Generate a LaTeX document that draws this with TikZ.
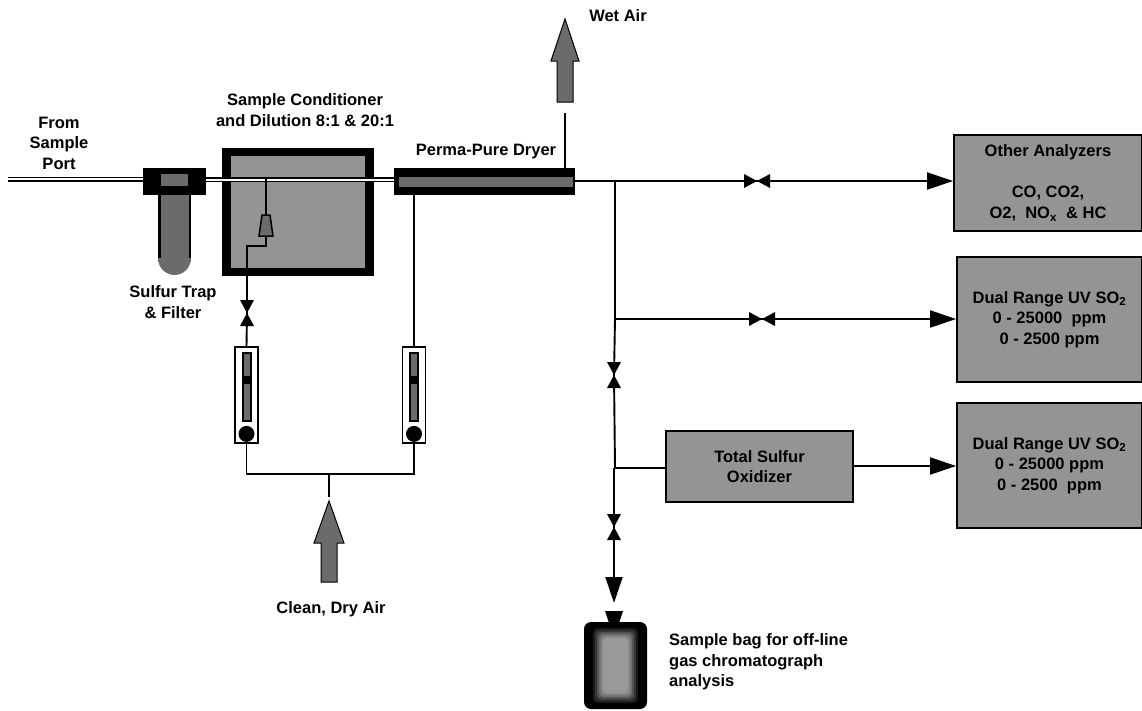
\documentclass[tikz,border=0pt]{standalone}
\usepackage{fontspec}
\setmainfont{Liberation Sans}
\usetikzlibrary{arrows.meta,calc}
\definecolor{halftone}{gray}{0.58}
\definecolor{darktone}{gray}{0.42}
\tikzset{
  lbl/.style={font=\fontsize{16.5}{20.5}\selectfont\bfseries,align=center,inner sep=0pt,text=black},
  lblleft/.style={lbl,align=left,anchor=west},
  unit/.style={lbl,draw=black,line width=1.8pt,fill=halftone,inner sep=0pt},
  pipe/.style={draw=black,line width=1.9pt},
  thinpipe/.style={draw=black,line width=1.5pt},
  feed/.style={pipe,-{Triangle[length=26pt,width=17pt]}},
  dblouter/.style={draw=black,line width=5pt},
  dblinner/.style={draw=white,line width=1.7pt},
  blockarrow/.style={draw=black,line width=1pt,fill=darktone},
  dark/.style={fill=black},
  meter/.style={draw=black,line width=1.8pt,fill=white,minimum width=23pt,minimum height=96pt,inner sep=0pt},
}
\newcommand{\valveH}[1]{\fill[black] ($(#1)+(-13,-7)$) -- ($(#1)+(13,7)$) -- ($(#1)+(13,-7)$) -- ($(#1)+(-13,7)$) -- cycle;}
\newcommand{\valveV}[1]{\fill[black] ($(#1)+(-7,-13)$) -- ($(#1)+(7,13)$) -- ($(#1)+(-7,13)$) -- ($(#1)+(7,-13)$) -- cycle;}
\newcommand{\meterbody}[1]{%
  \fill[black] ($(#1.north)+(-5,6)$) rectangle ($(#1.north)+(5,76)$);
  \fill[darktone] ($(#1.north)+(-3,8)$) rectangle ($(#1.north)+(3,30)$);
  \fill[darktone] ($(#1.north)+(-3,38)$) rectangle ($(#1.north)+(3,74)$);
  \fill[black] ($(#1.south)+(0,-10)$) circle (8);}
\begin{document}
\begin{tikzpicture}[x=1pt,y=-1pt]
\useasboundingbox (0,0) rectangle (1142,710);

% --- named anchor points
\coordinate (inlet) at (8,179);
\coordinate (jmain) at (615,181);
\coordinate (jmid) at (615,319);
\coordinate (jox) at (615,468);
\coordinate (vmain) at (757,181);
\coordinate (vmid) at (762,319);
\coordinate (vup) at (614,375);
\coordinate (vlow) at (614,527);
\coordinate (vair) at (247,313);
\coordinate (tee) at (329,474);
\coordinate (stemend) at (329,497);
\coordinate (tap) at (266,179);
\coordinate (bend1) at (266,246);
\coordinate (bend2) at (247,246);
\coordinate (wetend) at (565,113);
\coordinate (bagtip) at (614,603);
\coordinate (oxout) at (853,466);

% --- units
\node[unit,minimum width=188pt,minimum height=96pt] (other) at (1048,183) {Other Analyzers\\[20.5pt]CO, CO2,\\O2,\ \ NO\textsubscript{x}\ \ \& HC};
\node[unit,minimum width=185pt,minimum height=125pt] (uv1) at (1049.5,319.5) {Dual Range UV SO\textsubscript{2}\\0 - 25000\ \ ppm\\0 - 2500 ppm};
\node[unit,minimum width=185pt,minimum height=125pt] (uv2) at (1049.5,465.5) {Dual Range UV SO\textsubscript{2}\\0 - 25000 ppm\\0 - 2500\ \ ppm};
\node[unit,minimum width=187pt,minimum height=71pt] (oxid) at (759.5,466.5) {Total Sulfur\\Oxidizer};

% --- conditioner box
\node[draw=black,line width=8.5pt,fill=halftone,minimum width=143pt,minimum height=120pt,inner sep=0pt] (cond) at (298,212) {};

% --- inlet and through line
\path[dblouter] (inlet) -- (144,179);
\path[dblinner] (inlet) -- (144,179);
\path[dblouter] (206,179) -- (395,179);
\path[dblinner] (206,180) -- (395,180);

% --- sulfur trap
\node[fill=darktone,minimum width=33pt,minimum height=70pt,inner sep=0pt] (bowlrect) at (174.5,227) {};
\fill[black] (158,192) rectangle (160.5,258);
\fill[black] (188.5,192) rectangle (191,258);
\fill[darktone] (158,258) .. controls (158,268) and (166,275) .. (174.5,275) .. controls (183,275) and (191,268) .. (191,258) -- cycle;
\node[dark,minimum width=63pt,minimum height=27pt,inner sep=0pt] (trap) at (174.5,181.5) {};
\fill[darktone] (161,174) rectangle (188,186);

% --- dryer
\node[dark,minimum width=181pt,minimum height=27pt,inner sep=0pt] (dryer) at (484.5,181.5) {};
\fill[darktone] (399,177) rectangle (573,187);

% --- flow meters
\node[meter] (mleft) at (246.5,395) {};
\node[meter] (mright) at (414,395) {};
\meterbody{mleft}
\meterbody{mright}

% --- nozzle and air line in the conditioner
\node[inner sep=0pt,minimum size=0pt] (nozzle) at (266,225) {};
\fill[darktone,draw=black,line width=1.5pt] (262,215) -- (270,215) -- (273,236) -- (259,236) -- cycle;
\draw[thinpipe] (tap) -- (nozzle |- 0,215);
\draw[pipe] (266,236) -- (bend1) -- (bend2) -- (vair) -- (mleft.north);
\valveV{vair}

% --- dilution air
\draw[pipe] (mright.north) -- (mright.north |- dryer.south);
\draw[pipe] (mleft.south) -- (mleft.south |- tee) -- (mright.south |- tee) -- (mright.south);
\draw[pipe] (tee) -- (stemend);
\draw[blockarrow] (329,501) -- (344,543) -- (337,543) -- (337,582) -- (321,582) -- (321,543) -- (314,543) -- cycle;

% --- wet air
\draw[pipe] (wetend) -- (wetend |- dryer.north);
\draw[blockarrow] (565,19) -- (579,61) -- (573,61) -- (573,102) -- (557,102) -- (557,61) -- (551,61) -- cycle;

% --- sample lines
\draw[feed] (dryer.east |- jmain) -- (jmain) -- (jmain -| other.west);
\valveH{vmain}
\draw[feed] (jmid) -- (jmid -| uv1.west);
\valveH{vmid}
\draw[pipe] (jmain) -- (jmid) -- (vup) -- (jox) -- (jox -| oxid.west);
\valveV{vup}
\draw[feed] (oxout) -- (oxout -| uv2.west);
\draw[pipe,-{Triangle[length=26pt,width=17pt]}] (jox -| vlow) -- (vlow) -- (bagtip);
\valveV{vlow}

% --- sample bag
\fill[black] (605,611) -- (623,611) -- (619,623) -- (609,623) -- cycle;
\node[fill=black,rounded corners=7pt,minimum width=63pt,minimum height=87pt,inner sep=0pt] (bag) at (615.5,665.5) {};
\foreach \d/\g in {6/0.1,8/0.2,10/0.32,12/0.44,14/0.54,16/0.6}{
  \definecolor{bagtone}{gray}{\g}
  \fill[bagtone,rounded corners=5pt] ($(bag.north west)+(\d+3,\d)$) rectangle ($(bag.south east)+(-\d-3,-\d)$);
}

% --- labels
\node[lbl] (lfrom) at (59,143) {From\\Sample\\Port};
\node[lbl] (lcond) at (305,110) {Sample Conditioner\\and Dilution 8:1 \& 20:1};
\node[lbl] (ltrap) at (173,302) {Sulfur Trap\\\& Filter};
\node[lbl] (ldry) at (486,152) {Perma-Pure Dryer};
\node[lbl] (lwet) at (618,16) {Wet Air};
\node[lbl] (lclean) at (331,609) {Clean, Dry Air};
\node[lblleft] (lbag) at (669,662) {Sample bag for off-line\\gas chromatograph\\analysis};
\end{tikzpicture}
\end{document}
